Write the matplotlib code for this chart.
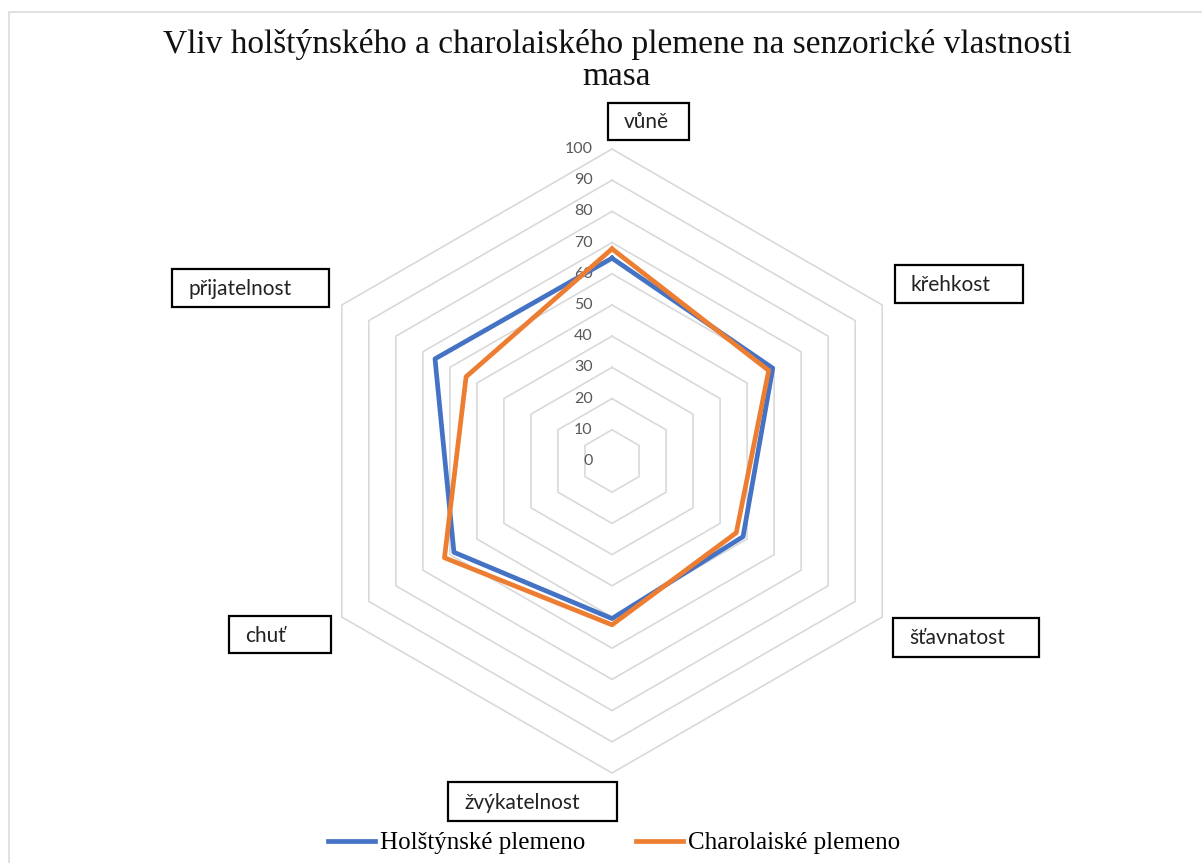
import numpy as np
import matplotlib.pyplot as plt
from matplotlib.patches import Rectangle

categories = ['vůně', 'křehkost', 'šťavnatost', 'žvýkatelnost', 'chuť', 'přijatelnost']
holstyn = [65, 59.5, 48.5, 50.5, 58.5, 65.5]
charolais = [68, 58, 46, 52.5, 62, 54]
ticks = list(range(0, 101, 10))

W, H = 1202, 863
# label boxes in pixel coords (left, top, right, bottom)
boxes = [(608, 103, 689, 140), (895, 265, 1023, 303), (893, 618, 1039, 657),
         (448, 782, 617, 821), (229, 616, 331, 653), (172, 269, 329, 307)]

fig = plt.figure(figsize=(W / 100, H / 100), dpi=100)
cx, cy, R = 612, 461, 312
ax = fig.add_axes([(cx - R) / W, (H - cy - R) / H, 2 * R / W, 2 * R / H], projection='polar')
ax.set_theta_offset(np.pi / 2)
ax.set_theta_direction(-1)
ax.set_ylim(0, 100)
ax.grid(False)
ax.spines['polar'].set_visible(False)
ax.set_xticks([])
ax.set_yticks([])
ax.patch.set_alpha(0)

theta = np.linspace(0, 2 * np.pi, len(categories), endpoint=False)
th_closed = np.append(theta, theta[0])

for t in ticks[1:]:
    ax.plot(th_closed, [t] * len(th_closed), color='#d9d9d9', lw=1.2, clip_on=False, zorder=1)
for t in ticks:
    ax.annotate(str(t), (0, t), xytext=(-14, 0), textcoords='offset points',
                ha='right', va='center', fontsize=11.5, color='#595959', family='Lato')

ax.plot(th_closed, holstyn + holstyn[:1], color='#4472c4', lw=3.4, clip_on=False, zorder=3,
        label='Holštýnské plemeno')
ax.plot(th_closed, charolais + charolais[:1], color='#ed7d31', lw=3.4, clip_on=False, zorder=4,
        label='Charolaiské plemeno')

for name, (x0, y0, x1, y1) in zip(categories, boxes):
    fig.patches.append(Rectangle((x0 / W, 1 - y1 / H), (x1 - x0) / W, (y1 - y0) / H,
                                 transform=fig.transFigure, fill=False, ec='black', lw=1.6))
    fig.text((x0 + 16) / W, 1 - (y0 + y1 + 2) / 2 / H, name, ha='left', va='center',
             fontsize=15, family='Lato', color='#222222')

tx = 617 / W
fig.text(tx, 1 - 44 / H, 'Vliv holštýnského a charolaiského plemene na senzorické vlastnosti',
         ha='center', va='center', fontsize=24, family='Liberation Serif', color='#111111')
fig.text(tx, 1 - 77 / H, 'masa', ha='center', va='center', fontsize=24,
         family='Liberation Serif', color='#111111')

fig.legend(loc='center', bbox_to_anchor=(614 / W, 1 - 843 / H), ncol=2, frameon=False,
           prop={'family': 'Liberation Serif', 'size': 18}, handlelength=1.9,
           handletextpad=0.2, columnspacing=2.0)

# chart area border (only top and left edges fall inside the picture)
fig.patches.append(Rectangle((9 / W, -0.01), 1.02, 1 - 12 / H + 0.01, transform=fig.transFigure,
                             fill=False, ec='#dcdcdc', lw=1.2))
fig.savefig('out.png', dpi=100)
